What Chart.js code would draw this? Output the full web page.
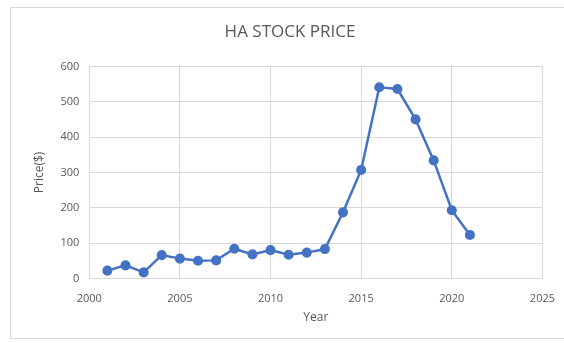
<!DOCTYPE html>
<html>
<head>
<meta charset="utf-8">
<script src="https://cdn.jsdelivr.net/npm/chart.js@4"></script>
<style>
  html, body { margin: 0; padding: 0; background: #fff; }
  #box { position: absolute; left: 10px; top: 7px; width: 560px; height: 332px; border: 1px solid #d9d9d9; box-sizing: border-box; }
  #chart { display: block; }
</style>
</head>
<body>
<div id="box"><canvas id="chart" width="558" height="330"></canvas></div>
<script>
const years = [2001, 2002, 2003, 2004, 2005, 2006, 2007, 2008, 2009, 2010, 2011, 2012, 2013, 2014, 2015, 2016, 2017, 2018, 2019, 2020, 2021];
const prices = [22, 37, 17, 66, 56, 50, 51, 84, 68, 80, 67, 73, 83, 187, 307, 541, 536, 450, 334, 193, 123];

const blue = "#4472c4";
const grid = "#d9d9d9";
const txt = "#595959";

const points = years.map((y, i) => ({x: y, y: prices[i]}));

new Chart(document.getElementById("chart"), {
    type: "line",
    data: {
        datasets: [{
            label: "Price",
            data: points,
            borderColor: blue,
            backgroundColor: blue,
            borderWidth: 2.5,
            pointRadius: 3.8,
            pointHoverRadius: 3.8,
            tension: 0
        }]
    },
    options: {
        responsive: false,
        animation: false,
        layout: { padding: { left: 17, right: 17, top: 10, bottom: 9 } },
        plugins: {
            legend: { display: false },
            tooltip: { enabled: false },
            title: {
                display: true,
                text: "HA STOCK PRICE",
                color: txt,
                font: { family: "Open Sans", size: 17, weight: "normal" },
                padding: { top: 4, bottom: 24 }
            }
        },
        scales: {
            x: {
                type: "linear",
                min: 2000,
                max: 2025,
                ticks: { stepSize: 5, color: txt, font: { family: "Open Sans", size: 11 }, callback: v => String(v), maxRotation: 0, padding: 14 },
                grid: { color: grid, drawTicks: false },
                border: { color: grid },
                title: { display: true, text: "Year", color: txt, font: { family: "Open Sans", size: 12 }, padding: { top: -9 } }
            },
            y: {
                min: 0,
                max: 600,
                ticks: { stepSize: 100, color: txt, font: { family: "Open Sans", size: 11 }, padding: 10 },
                grid: { color: grid, drawTicks: false },
                border: { color: grid },
                title: { display: true, text: "Price($)", color: txt, font: { family: "Open Sans", size: 12 }, padding: { bottom: 4 } }
            }
        }
    }
});
</script>
</body>
</html>
